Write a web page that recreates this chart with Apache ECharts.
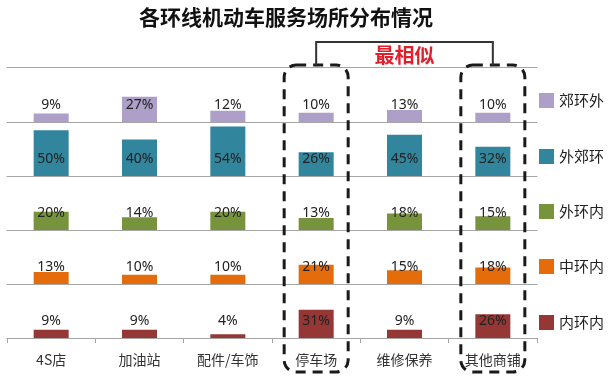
<!DOCTYPE html>
<html><head><meta charset="utf-8">
<script src="https://cdn.jsdelivr.net/npm/echarts@6/dist/echarts.min.js"></script>
<style>html,body{margin:0;padding:0;background:#fff}#c{width:613px;height:381px}</style>
</head><body><div id="c"></div>
<script>
const categories = ['4S店', '加油站', '配件/车饰', '停车场', '维修保养', '其他商铺'];
const seriesNames = ['郊环外', '外郊环', '外环内', '中环内', '内环内'];
const v_jiaohuanwai = [9, 27, 12, 10, 13, 10];
const v_waijiaohuan = [50, 40, 54, 26, 45, 32];
const v_waihuannei = [20, 14, 20, 13, 18, 15];
const v_zhonghuannei = [13, 10, 10, 21, 15, 18];
const v_neihuannei = [9, 9, 4, 31, 9, 26];
const allValues = [v_jiaohuanwai, v_waijiaohuan, v_waihuannei, v_zhonghuannei, v_neihuannei];
const highlighted = ['停车场', '其他商铺'];
const titleText = '各环线机动车服务场所分布情况';
const noteText = '最相似';

const colors = ['#ae9fc8', '#31859c', '#77933c', '#e46c0a', '#953735'];
const tops = [67, 122, 176, 230, 284];
const heights = [55, 54, 54, 54, 54];
const legendCenters = [101, 157, 212, 267, 323];
const axisColor = '#a6a6a6';
const numFont = 'Noto Sans, sans-serif';
const cjkFont = '"Noto Sans CJK SC", sans-serif';

const grids = [], xAxes = [], yAxes = [], series = [], legends = [];
for (let i = 0; i < 5; i++) {
  grids.push({left: 7, right: 76, top: tops[i], height: heights[i]});
  const last = i === 4;
  xAxes.push({
    type: 'category', gridIndex: i, data: categories,
    axisLine: {show: true, lineStyle: {color: axisColor, width: 1}},
    axisTick: {show: last, length: 5, lineStyle: {color: axisColor}},
    axisLabel: {show: last, fontSize: 14, color: '#333', fontFamily: cjkFont, margin: 15}
  });
  yAxes.push({type: 'value', gridIndex: i, min: 0, max: 59, show: false, splitLine: {show: false}});
  series.push({
    name: seriesNames[i], type: 'bar', xAxisIndex: i, yAxisIndex: i,
    data: allValues[i], barWidth: 35, itemStyle: {color: colors[i]},
    label: {show: true, position: 'insideBottom', distance: 10, formatter: '{c}%',
      fontSize: 14, color: '#222', fontFamily: numFont}
  });
  legends.push({
    data: [seriesNames[i]], orient: 'vertical', left: 539, top: legendCenters[i] - 8,
    padding: 0, itemWidth: 15, itemHeight: 15, icon: 'rect',
    textStyle: {fontSize: 15, color: '#222', fontFamily: cjkFont}
  });
}
// top border line
xAxes.push({type: 'category', gridIndex: 0, position: 'top', data: categories,
  axisLine: {show: true, lineStyle: {color: axisColor}}, axisTick: {show: false}, axisLabel: {show: false}});

const chart = echarts.init(document.getElementById('c'));
chart.setOption({
  animation: false,
  title: {text: titleText, left: 139, top: 7, padding: 0,
    textStyle: {fontSize: 21, fontWeight: 'bold', color: '#111', fontFamily: cjkFont}},
  grid: grids, xAxis: xAxes, yAxis: yAxes, series: series, legend: legends
});

// annotations positioned from axis
const cx = highlighted.map(c => chart.convertToPixel({xAxisIndex: 4}, c));
const boxW = 64, boxTop = 65, boxBottom = 372;
const graphics = cx.map(x => ({
  type: 'rect', z: 100,
  shape: {x: x - boxW / 2, y: boxTop, width: boxW, height: boxBottom - boxTop, r: 12},
  style: {fill: null, stroke: '#1a1a1a', lineWidth: 3, lineDash: [10, 7]}
}));
graphics.push({
  type: 'polyline', z: 100,
  shape: {points: [[cx[0], boxTop], [cx[0], 42], [cx[1], 42], [cx[1], boxTop]]},
  style: {fill: null, stroke: '#333', lineWidth: 2}
});
graphics.push({
  type: 'text', z: 100, x: (cx[0] + cx[1]) / 2, y: 55,
  style: {text: noteText, fill: '#e0202a', font: 'bold 20px "Noto Sans CJK SC"', align: 'center', verticalAlign: 'middle'}
});
chart.setOption({graphic: graphics});
</script></body></html>
